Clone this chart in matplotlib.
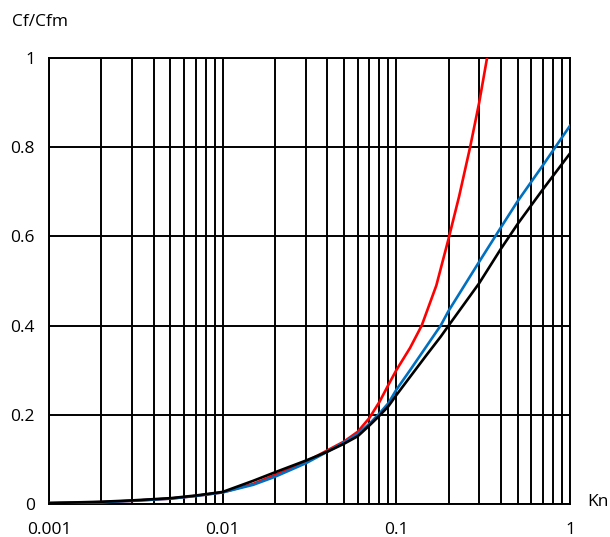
import matplotlib
matplotlib.use('Agg')
import matplotlib.pyplot as plt
from matplotlib.ticker import FixedLocator, LogLocator, NullFormatter

# Knudsen number grid
kn = [0.001, 0.002, 0.003, 0.005, 0.007, 0.01, 0.015, 0.02, 0.03, 0.04,
      0.05, 0.06, 0.07, 0.08, 0.09, 0.1, 0.12, 0.15, 0.18, 0.2, 0.3, 0.4, 0.5, 0.7, 1.0]

# Cf/Cfm curves
cf_black = [0.002, 0.005, 0.008, 0.013, 0.019, 0.027, 0.052, 0.071, 0.097, 0.117,
            0.135, 0.152, 0.176, 0.198, 0.219, 0.244, 0.285, 0.335, 0.375, 0.40,
            0.495, 0.572, 0.628, 0.706, 0.786]
cf_blue = [0.002, 0.004, 0.007, 0.012, 0.018, 0.026, 0.043, 0.061, 0.091, 0.117,
           0.138, 0.157, 0.18, 0.203, 0.226, 0.256, 0.30, 0.355, 0.40, 0.433,
           0.543, 0.62, 0.679, 0.76, 0.848]

kn_red = [0.001, 0.002, 0.003, 0.005, 0.007, 0.01, 0.015, 0.02, 0.03, 0.04,
          0.05, 0.06, 0.07, 0.08, 0.09, 0.1, 0.12, 0.14, 0.17, 0.2, 0.23, 0.266, 0.3, 0.333, 0.36]
cf_red = [0.002, 0.004, 0.007, 0.012, 0.018, 0.026, 0.045, 0.065, 0.094, 0.12,
          0.14, 0.162, 0.193, 0.229, 0.267, 0.30, 0.35, 0.40, 0.49, 0.595, 0.69, 0.80, 0.9, 1.0, 1.08]

y_ticks = [0, 0.2, 0.4, 0.6, 0.8, 1]
y_labels = ['0', '0.2', '0.4', '0.6', '0.8', '1']
x_ticks = [0.001, 0.01, 0.1, 1]
x_labels = ['0.001', '0.01', '0.1', '1']

plt.rcParams['font.family'] = ['Open Sans', 'DejaVu Sans']

fig = plt.figure(figsize=(6.1, 5.37), dpi=100)
ax = fig.add_axes([0.0803, 0.0615, 0.8541, 0.8305])

ax.plot(kn_red, cf_red, color='#ff0000', lw=1.9, zorder=3, solid_joinstyle='round')
ax.plot(kn, cf_black, color='black', lw=1.9, zorder=4, solid_joinstyle='round')
ax.plot(kn, cf_blue, color='#0070c0', lw=1.9, zorder=3.5, solid_joinstyle='round')

ax.set_xscale('log')
ax.set_xlim(0.001, 1)
ax.set_ylim(0, 1)

ax.xaxis.set_major_locator(FixedLocator(x_ticks))
ax.set_xticklabels(x_labels)
ax.xaxis.set_minor_locator(LogLocator(base=10, subs=range(2, 10)))
ax.xaxis.set_minor_formatter(NullFormatter())
ax.set_yticks(y_ticks)
ax.set_yticklabels(y_labels)

ax.grid(which='major', color='black', lw=1.4)
ax.grid(which='minor', axis='x', color='black', lw=1.4)
ax.tick_params(which='both', length=0, labelsize=12.5)
ax.tick_params(axis='x', pad=13)
ax.tick_params(axis='y', pad=10)
for s in ax.spines.values():
    s.set_linewidth(1.4)

fig.text(12 / 610, 1 - 22 / 537, 'Cf/Cfm', fontsize=12.5, va='center', ha='left')
fig.text(587 / 610, 1 - 502 / 537, 'Kn', fontsize=12.5, va='center', ha='left')

fig.savefig('out.png', dpi=100)
